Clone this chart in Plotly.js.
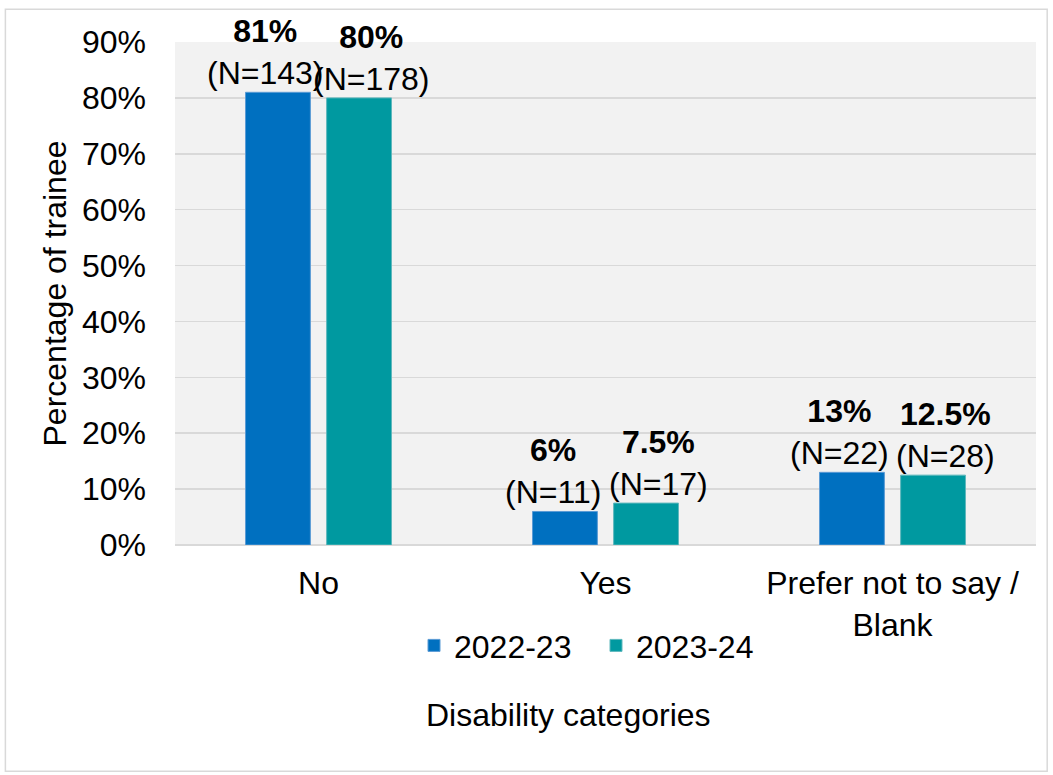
<!DOCTYPE html>
<html>
<head>
<meta charset="utf-8">
<script src="https://cdn.plot.ly/plotly-3.0.1.min.js"></script>
<style>
  html, body { margin: 0; padding: 0; background: #ffffff; }
  #chart { width: 1053px; height: 775px; }
</style>
</head>
<body>
<div id="chart"></div>
<script>
// Disability categories of trainees, two academic years
const categories = ["No", "Yes", "Prefer not to say /<br>Blank"];
const years = ["2022-23", "2023-24"];
const pct2022 = [81, 6, 13];
const pct2023 = [80, 7.5, 12.5];
const count2022 = [143, 11, 22];
const count2023 = [178, 17, 28];
const yTicks = [0, 10, 20, 30, 40, 50, 60, 70, 80, 90];
const xTitle = "Disability categories";

const colours = ["#0070c0", "#0099a0"];
const edges = ["#5b9bd5", "#5fb8bd"];
const font = "Liberation Sans, Arial, sans-serif";
const size = 32;

const series = [
  { name: years[0], y: pct2022, n: count2022, shift: -53 },
  { name: years[1], y: pct2023, n: count2023, shift: 53 }
];

const traces = series.map((s, k) => ({
  type: "bar",
  name: s.name,
  x: categories,
  y: s.y,
  marker: { color: colours[k], line: { color: edges[k], width: 1 } },
  hoverinfo: "skip"
}));

// Value labels above each bar, nudged outward so neighbouring labels clear each other
const annotations = [];
series.forEach(s => {
  categories.forEach((c, i) => {
    annotations.push({
      x: c,
      y: s.y[i],
      xref: "x",
      yref: "y",
      text: "<b>" + s.y[i] + "%</b><br>(N=" + s.n[i] + ")",
      showarrow: false,
      xanchor: "center",
      yanchor: "bottom",
      xshift: s.shift,
      yshift: -1,
      font: { family: font, size: size, color: "#000000" }
    });
  });
});

// Category axis title, set below the legend and aligned with it
annotations.push({
  x: 0.4565,
  y: -0.338,
  xref: "paper",
  yref: "paper",
  text: xTitle,
  showarrow: false,
  xanchor: "center",
  yanchor: "middle",
  font: { family: font, size: size, color: "#000000" }
});

const layout = {
  width: 1053,
  height: 775,
  paper_bgcolor: "#ffffff",
  plot_bgcolor: "#f2f2f2",
  font: { family: font, size: size, color: "#000000" },
  margin: { l: 175, r: 17, t: 42, b: 230, pad: 0 },
  barmode: "group",
  bargap: 0.435,
  bargroupgap: 0.2,
  showlegend: true,
  legend: {
    orientation: "h",
    x: 0.2776,
    xanchor: "left",
    y: -0.2,
    yanchor: "middle",
    bgcolor: "rgba(0,0,0,0)",
    font: { family: font, size: size, color: "#000000" },
    itemwidth: 30,
    entrywidth: 137,
    tracegroupgap: 0
  },
  xaxis: {
    type: "category",
    showgrid: false,
    zeroline: false,
    showline: false,
    ticks: "",
    ticklabelstandoff: 16,
    tickfont: { family: font, size: size, color: "#000000" },
    automargin: false
  },
  yaxis: {
    range: [0, 90],
    tickvals: yTicks,
    ticktext: yTicks.map(v => v + "%"),
    showgrid: true,
    gridcolor: "#d9d9d9",
    gridwidth: 1.5,
    zeroline: true,
    zerolinecolor: "#d9d9d9",
    zerolinewidth: 1.5,
    showline: false,
    ticks: "",
    ticklabelstandoff: 28,
    tickfont: { family: font, size: size, color: "#000000" },
    title: {
      text: "Percentage of trainee",
      font: { family: font, size: size, color: "#000000" },
      standoff: 5
    },
    automargin: false
  },
  annotations: annotations,
  shapes: [{
    type: "rect",
    xref: "paper", yref: "paper",
    x0: -0.197, x1: 1.013,
    y0: -0.45, y1: 1.065,
    line: { color: "#d9d9d9", width: 1.5 },
    fillcolor: "rgba(0,0,0,0)",
    layer: "below"
  }]
};

Plotly.newPlot("chart", traces, layout, { displayModeBar: false, staticPlot: true });
</script>
</body>
</html>
